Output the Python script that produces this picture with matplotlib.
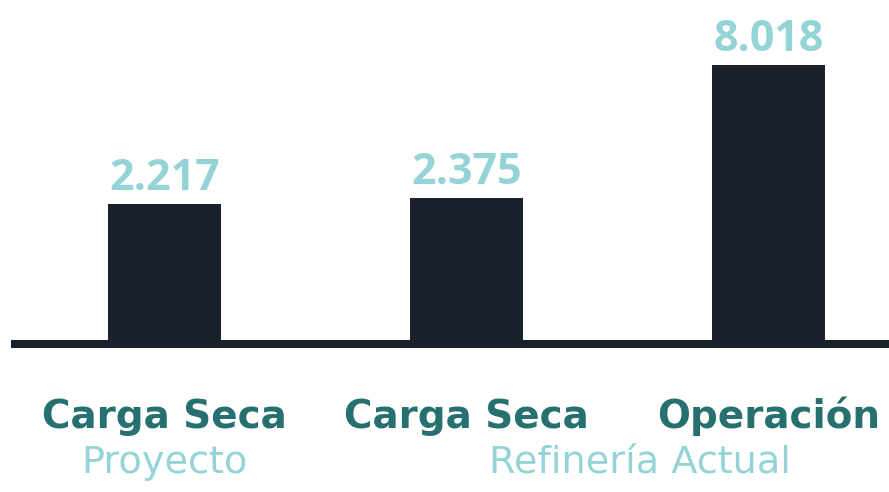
import matplotlib
matplotlib.use("Agg")
import matplotlib.pyplot as plt
import numpy as np

categories = ["Carga Seca", "Carga Seca", "Operación"]
values = [2.217, 2.375, 8.018]
value_labels = ["2.217", "2.375", "8.018"]
groups = ["Proyecto", "Refinería Actual"]
group_members = [[0], [1, 2]]

BAR = "#1b212a"
VAL = "#94d3d6"
LAB = "#26706f"
SUB = "#94d3d6"

fig = plt.figure(figsize=(8.89, 4.92), dpi=100)
ax = fig.add_axes([15/889, (492-344)/492, 874/889, 279/492])

p = 0.535
ax.set_yscale("function", functions=(lambda v: np.sign(v)*np.abs(v)**p,
                                     lambda u: np.sign(u)*np.abs(u)**(1/p)))
x = np.arange(len(values))
ax.bar(x, values, width=0.374, color=BAR, zorder=2)
ax.set_xlim(-0.495, 2.40)
ax.set_ylim(0, max(values))
ax.axhline(0, color=BAR, lw=5.8, zorder=3, clip_on=False)
for s in ax.spines.values():
    s.set_visible(False)
ax.set_xticks([]); ax.set_yticks([])
ax.patch.set_alpha(0)

for xi, v, t in zip(x, values, value_labels):
    ax.annotate(t, (xi, v), xytext=(0, 14/1.389), textcoords="offset points",
                ha="center", va="baseline", fontsize=31, fontweight="bold",
                color=VAL, family="Open Sans", clip_on=False)

for xi, c in zip(x, categories):
    ax.annotate(c, (xi, 0), xytext=(0, -84/1.389), textcoords="offset points",
                ha="center", va="baseline", fontsize=28, fontweight="bold",
                color=LAB, family="DejaVu Sans")

offsets = [0.0, 0.075]
for g, mem, off in zip(groups, group_members, offsets):
    gx = np.mean(mem) + off
    ax.annotate(g, (gx, 0), xytext=(0, -129/1.389), textcoords="offset points",
                ha="center", va="baseline", fontsize=27.5, fontweight="normal",
                color=SUB, family="DejaVu Sans")

fig.savefig("out.png", dpi=100)
